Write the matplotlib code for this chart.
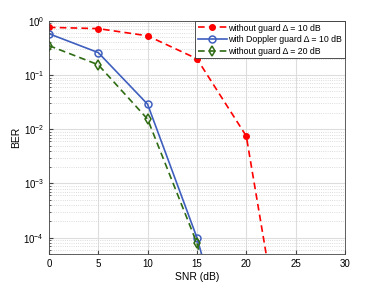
import matplotlib.pyplot as plt

plt.rcParams['font.family'] = ['Liberation Sans', 'DejaVu Sans']
plt.rcParams['mathtext.fontset'] = 'custom'
plt.rcParams['mathtext.rm'] = 'Liberation Sans'
plt.rcParams['mathtext.it'] = 'Liberation Sans:italic'

snr = [0, 5, 10, 15, 20, 25]
ber_no_guard_10 = [0.76, 0.72, 0.53, 0.20, 0.0075, 3e-8]
ber_doppler_10 = [0.58, 0.26, 0.029, 1.0e-4, 6e-8]
ber_no_guard_20 = [0.35, 0.155, 0.0154, 7.9e-5, 2e-8]

fig = plt.figure(figsize=(3.82, 2.86), dpi=100)
ax = fig.add_axes([0.128, 0.112, 0.775, 0.815])

ax.semilogy(snr, ber_no_guard_10, color='r', linestyle='--', dashes=(4, 2.5),
            marker='o', markersize=4, linewidth=1.2,
            label='without guard Δ = 10 dB')
ax.semilogy(snr[:5], ber_doppler_10, color='#3f5fbf', linestyle='-', marker='o',
            markersize=5, markerfacecolor='none', markeredgewidth=1.1,
            linewidth=1.2, label='with Doppler guard Δ = 10 dB')
ax.semilogy(snr[:5], ber_no_guard_20, color='#2e6b12', linestyle='--',
            dashes=(4, 2.5), marker='d', markersize=5, markerfacecolor='none',
            markeredgewidth=1.1, linewidth=1.2,
            label='without guard Δ = 20 dB')

ax.set_xlim(0, 30)
ax.set_ylim(5e-5, 1)
ax.set_xticks(range(0, 31, 5))
ax.grid(True, which='major', color='#dddddd', linewidth=0.8)
ax.grid(True, which='minor', color='#d0d0d0', linestyle=':', linewidth=0.6)
ax.tick_params(which='both', direction='in', labelsize=7, color='#444444')
ax.tick_params(which='minor', length=1.5)
ax.tick_params(which='major', length=3)
for s in ax.spines.values():
    s.set_color('#444444')
    s.set_linewidth(0.6)

ax.set_xlabel('SNR (dB)', fontsize=7.5, labelpad=2)
ax.set_ylabel('BER', fontsize=7.5, labelpad=2)
leg = ax.legend(loc='upper right', fontsize=6.3, fancybox=False, framealpha=1,
                borderaxespad=0.0, handlelength=3.3, labelspacing=0.3,
                borderpad=0.3, handletextpad=0.2)
leg.get_frame().set_edgecolor('#333333')
leg.get_frame().set_linewidth(0.6)

fig.savefig('out.png', dpi=100)
